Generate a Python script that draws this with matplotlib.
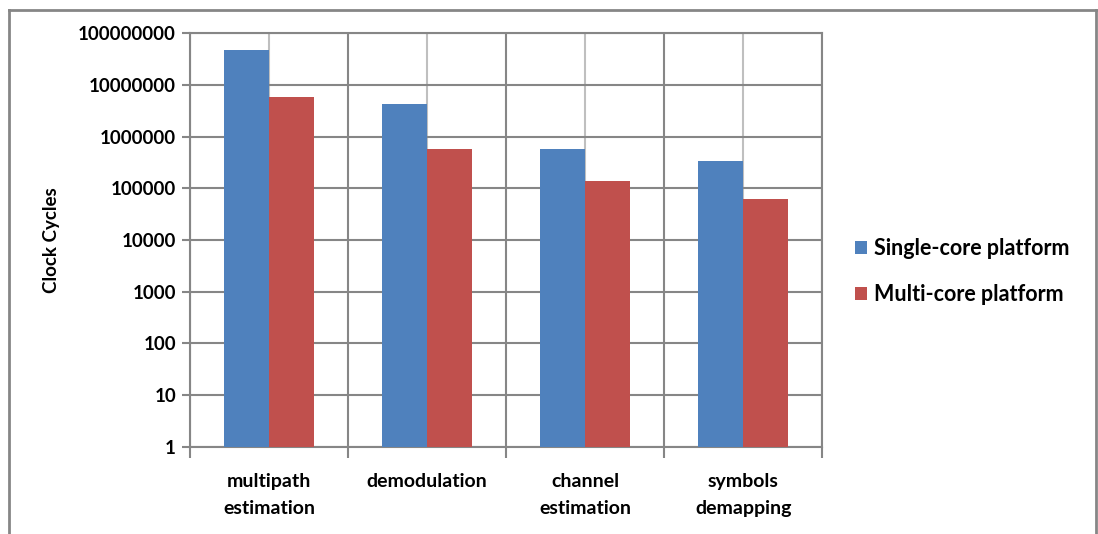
import numpy as np
import matplotlib.pyplot as plt
from matplotlib.lines import Line2D

categories = ["multipath\nestimation", "demodulation", "channel\nestimation", "symbols\ndemapping"]
single_core = [4.8e7, 4.3e6, 5.7e5, 3.3e5]
multi_core = [5.9e6, 5.7e5, 1.4e5, 6.2e4]
series_names = ["Single-core platform", "Multi-core platform"]
y_ticks = [1, 10, 100, 1000, 10000, 100000, 1000000, 10000000, 100000000]

blue = "#4F81BD"
red = "#C0504D"
dark_grid = "#868686"
light_grid = "#BFBFBF"

plt.rcParams['font.family'] = ['Lato', 'DejaVu Sans']
plt.rcParams['font.weight'] = 'bold'

fig = plt.figure(figsize=(10.98, 5.34), dpi=100)
ax = fig.add_axes([0.173, 0.163, 0.576, 0.775])

x = np.arange(len(categories))
w = 0.285
ax.bar(x - w / 2, single_core, w, color=blue, label=series_names[0], zorder=3)
ax.bar(x + w / 2, multi_core, w, color=red, label=series_names[1], zorder=3)

ax.set_yscale('log')
ax.set_ylim(1, 1e8)
ax.set_xlim(-0.5, len(categories) - 0.5)

ax.set_yticks(y_ticks)
ax.set_yticklabels([str(v) for v in y_ticks])
ax.yaxis.set_minor_locator(plt.NullLocator())

# boundaries as major ticks, category names on minor ticks
ax.set_xticks(np.arange(len(categories) + 1) - 0.5)
ax.set_xticklabels([])
ax.set_xticks(x, minor=True)
ax.set_xticklabels(categories, minor=True)
for t in ax.get_xticklabels(minor=True):
    t.set_linespacing(1.75)

ax.tick_params(axis='x', which='major', length=8, width=1.5, color=dark_grid, direction='out')
ax.tick_params(axis='x', which='minor', length=0, pad=18.5, labelsize=14)
ax.tick_params(axis='y', length=6, width=1.5, color=dark_grid, labelsize=13.5, pad=4)

ax.grid(axis='y', which='major', color=dark_grid, linewidth=1.5, zorder=0)
ax.grid(axis='x', which='major', color=dark_grid, linewidth=1.5, zorder=0)
ax.grid(axis='x', which='minor', color=light_grid, linewidth=1.5, zorder=0)
ax.set_axisbelow(True)

for s in ax.spines.values():
    s.set_color(dark_grid)
    s.set_linewidth(1.5)

ax.set_ylabel("Clock Cycles", fontsize=13.5, fontweight='bold', labelpad=13)

fig.legend(loc='center left', bbox_to_anchor=(0.761, 0.491), frameon=False,
           fontsize=15.5, handlelength=0.55, handleheight=0.55, handletextpad=0.35,
           labelspacing=1.15)

# outer chart border
for xs, ys in [([0.0082, 0.0082], [0, 0.981]), ([0.0082, 0.998], [0.981, 0.981]),
               ([0.998, 0.998], [0.981, 0])]:
    fig.add_artist(Line2D(xs, ys, color=dark_grid, linewidth=2, transform=fig.transFigure))

fig.savefig("out.png", dpi=100)
